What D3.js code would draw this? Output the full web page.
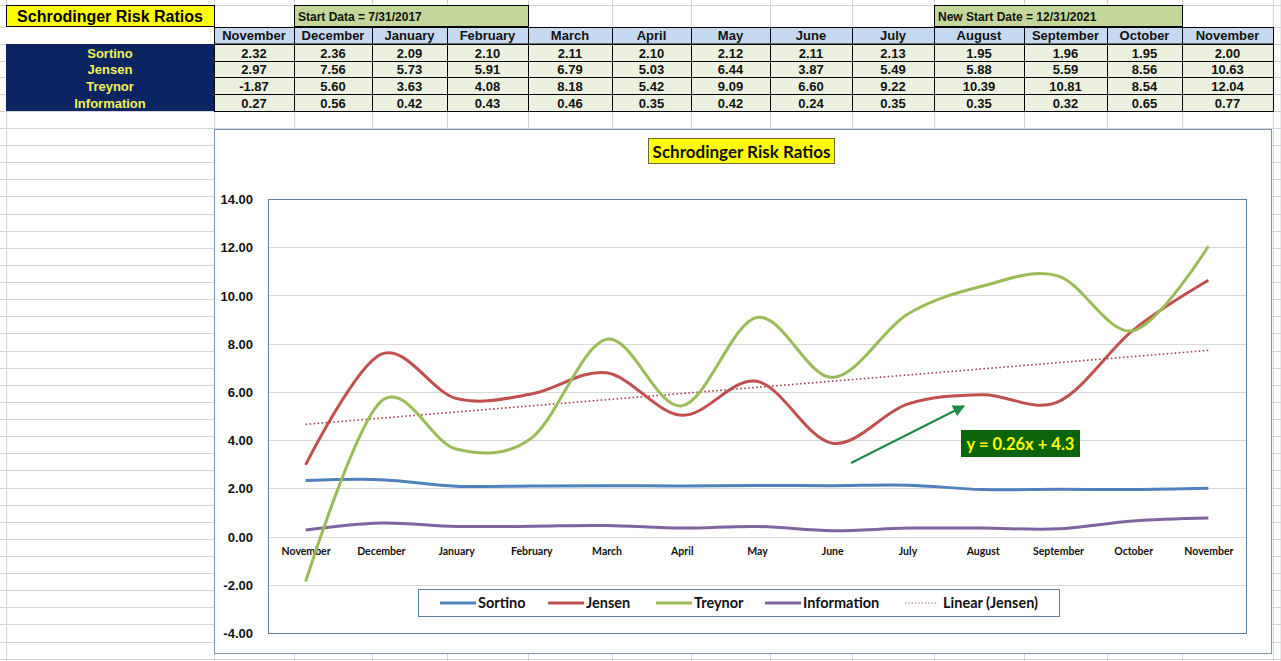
<!DOCTYPE html>
<html><head><meta charset="utf-8">
<script src="https://cdn.jsdelivr.net/npm/d3@7"></script>
<style>
html,body{margin:0;padding:0;background:#fff;}
svg{display:block;}
</style></head>
<body>
<svg id="c" width="1281" height="661"></svg>
<script>
// ---------- DATA ----------
const months = ["November","December","January","February","March","April","May","June","July","August","September","October","November"];
const sortino = [2.32,2.36,2.09,2.10,2.11,2.10,2.12,2.11,2.13,1.95,1.96,1.95,2.00];
const jensen = [2.97,7.56,5.73,5.91,6.79,5.03,6.44,3.87,5.49,5.88,5.59,8.56,10.63];
const treynor = [-1.87,5.60,3.63,4.08,8.18,5.42,9.09,6.60,9.22,10.39,10.81,8.54,12.04];
const information = [0.27,0.56,0.42,0.43,0.46,0.35,0.42,0.24,0.35,0.35,0.32,0.65,0.77];
const seriesNames = ["Sortino","Jensen","Treynor","Information"];
const yTicks = [-4,-2,0,2,4,6,8,10,12,14];
const tableTitle = "Schrodinger Risk Ratios";
const chartTitle = "Schrodinger Risk Ratios";
const startNote = "Start Data = 7/31/2017";
const newStartNote = "New Start Date = 12/31/2021";
const trendLabel = "y = 0.26x + 4.3";
const trendLegend = "Linear (Jensen)";

// ---------- LAYOUT ----------
const svg = d3.select("#c");
const fmt = d3.formatLocale({decimal:".", thousands:",", grouping:[3], currency:["$",""], minus:"-"}).format(".2f");
const colors = {Sortino:"#4F81BD", Jensen:"#C0504D", Treynor:"#9BBB59", Information:"#8064A2"};
const seriesData = {Sortino:sortino, Jensen:jensen, Treynor:treynor, Information:information};
const colEdges = [214,294,372,447,528,612,691,770,852,934,1024,1107,1182,1273];
const rowTops = [5,27,44,61,77,94,111];
const gridColor = "#D4D4D4";
const armF = "'Liberation Sans', Arial, sans-serif";
const calF = "Lato, 'Open Sans', sans-serif";

// spreadsheet gridlines
const g0 = svg.append("g");
const vLines = [6].concat(colEdges);
vLines.forEach(x => g0.append("line").attr("x1",x+0.5).attr("x2",x+0.5).attr("y1",0).attr("y2",661).attr("stroke",gridColor));
g0.append("line").attr("x1",1281).attr("x2",1281).attr("y1",0).attr("y2",661).attr("stroke",gridColor);
const hLines = [5,27,44,61,77,94,111];
for (let y=128; y<661; y+=17.12) hLines.push(Math.round(y));
hLines.forEach(y => g0.append("line").attr("x1",0).attr("x2",1281).attr("y1",y+0.5).attr("y2",y+0.5).attr("stroke",gridColor));

// ---------- TABLE ----------
const gt = svg.append("g");
gt.append("rect").attr("x",6.5).attr("y",5.5).attr("width",208).attr("height",21).attr("fill","#FFFF00").attr("stroke","#000");
gt.append("text").attr("x",110).attr("y",21.5).attr("text-anchor","middle").attr("font-family",armF).attr("font-weight","bold").attr("font-size",16).text(tableTitle);
gt.append("rect").attr("x",6).attr("y",27).attr("width",208).attr("height",17).attr("fill","#fff");
function note(c0,c1,txt){
  gt.append("rect").attr("x",colEdges[c0]+0.5).attr("y",5.5).attr("width",colEdges[c1]-colEdges[c0]).attr("height",21).attr("fill","#C4D79B").attr("stroke","#000");
  gt.append("text").attr("x",colEdges[c0]+4).attr("y",21).attr("font-family",armF).attr("font-weight","bold").attr("font-size",12).attr("fill","#111").text(txt);
}
note(1,4,startNote);
note(9,12,newStartNote);
months.forEach((m,i)=>{
  const x0=colEdges[i], x1=colEdges[i+1];
  gt.append("rect").attr("x",x0+0.5).attr("y",27.5).attr("width",x1-x0).attr("height",16.5).attr("fill","#C5D9F1").attr("stroke","#000");
  gt.append("text").attr("x",(x0+x1)/2).attr("y",40).attr("text-anchor","middle").attr("font-family",armF).attr("font-weight","bold").attr("font-size",13).attr("fill","#111").text(m);
});
gt.append("rect").attr("x",6).attr("y",44).attr("width",208).attr("height",67).attr("fill","#0B2462");
seriesNames.forEach((s,r)=>{
  const y0=rowTops[r+2], y1=rowTops[r+3];
  gt.append("text").attr("x",110).attr("y",y1-3.5).attr("text-anchor","middle").attr("font-family",armF).attr("font-weight","bold").attr("font-size",13).attr("fill","#F2F25A").text(s);
  seriesData[s].forEach((v,i)=>{
    const x0=colEdges[i], x1=colEdges[i+1];
    gt.append("rect").attr("x",x0+0.5).attr("y",y0+0.5).attr("width",x1-x0).attr("height",y1-y0).attr("fill","#EBF1DE").attr("stroke","#000");
    gt.append("text").attr("x",(x0+x1)/2).attr("y",y1-3.5).attr("text-anchor","middle").attr("font-family",armF).attr("font-weight","bold").attr("font-size",13).attr("fill","#111").text(fmt(v));
  });
});

// ---------- CHART ----------
const gc = svg.append("g");
gc.append("rect").attr("x",214.5).attr("y",129.5).attr("width",1057).attr("height",524).attr("fill","#fff").attr("stroke","#7896B4");
const P = {l:268, r:1246, t:199, b:633};
const x = d3.scalePoint().domain(d3.range(months.length)).range([P.l,P.r]).padding(0.5);
const y = d3.scaleLinear().domain([-4,14]).range([P.b,P.t]);

yTicks.forEach(t => {
  if (t===14) return;
  gc.append("line").attr("x1",P.l).attr("x2",P.r).attr("y1",Math.round(y(t))+0.5).attr("y2",Math.round(y(t))+0.5).attr("stroke","#D9D9D9");
});
gc.append("rect").attr("x",P.l+0.5).attr("y",P.t+0.5).attr("width",P.r-P.l).attr("height",P.b-P.t).attr("fill","none").attr("stroke","#5E7E9E");

const yAxis = d3.axisLeft(y).tickValues(yTicks).tickFormat(fmt).tickSize(0).tickPadding(0);
const ya = gc.append("g").attr("transform","translate(253,0)").call(yAxis);
ya.select(".domain").remove();
ya.selectAll("text").attr("font-family",armF).attr("font-weight","bold").attr("font-size",13).attr("fill","#111").attr("dy","0.35em");

const xAxis = d3.axisBottom(x).tickFormat(i=>months[i]).tickSize(0).tickPadding(0);
const xa = gc.append("g").attr("transform",`translate(0,${y(0)+11})`).call(xAxis);
xa.select(".domain").remove();
xa.selectAll("text").attr("font-family",calF).attr("font-weight","bold").attr("font-size",10.5).attr("fill","#111").attr("dy","0.71em");

// trendline (linear regression of Jensen)
const xs = jensen.map((d,i)=>i+1);
const mx = d3.mean(xs), my = d3.mean(jensen);
const slope = d3.sum(xs.map((xi,i)=>(xi-mx)*(jensen[i]-my))) / d3.sum(xs.map(xi=>(xi-mx)*(xi-mx)));
const icpt = my - slope*mx;
gc.append("line")
  .attr("x1",x(0)).attr("y1",y(icpt+slope*1))
  .attr("x2",x(months.length-1)).attr("y2",y(icpt+slope*months.length))
  .attr("stroke","#A0464A").attr("stroke-width",1.6).attr("stroke-dasharray","1.6,2.4");

const line = d3.line().x((d,i)=>x(i)).y(d=>y(d)).curve(d3.curveCardinal.tension(0));
["Sortino","Information","Jensen","Treynor"].forEach(s=>{
  gc.append("path").datum(seriesData[s]).attr("d",line).attr("fill","none")
    .attr("stroke",colors[s]).attr("stroke-width",3).attr("stroke-linecap","butt");
});

// title
gc.append("rect").attr("x",648.5).attr("y",138.5).attr("width",186).attr("height",25).attr("fill","#FFFF00").attr("stroke","#6B6B3A");
gc.append("text").attr("x",741.5).attr("y",157.5).attr("text-anchor","middle").attr("font-family",calF).attr("font-weight","bold").attr("font-size",17).attr("fill","#111").text(chartTitle);

// arrow
const defs = svg.append("defs");
defs.append("marker").attr("id","ah").attr("viewBox","0 0 10 10").attr("refX",9).attr("refY",5)
  .attr("markerWidth",6).attr("markerHeight",6).attr("orient","auto").attr("markerUnits","strokeWidth")
  .append("path").attr("d","M0,0 L10,5 L0,10 z").attr("fill","#1E8A46");
gc.append("line").attr("x1",851).attr("y1",463).attr("x2",964).attr("y2",406).attr("stroke","#1E8A46").attr("stroke-width",2).attr("marker-end","url(#ah)");

// equation label
gc.append("rect").attr("x",961).attr("y",430).attr("width",119).attr("height",27).attr("fill","#0A640A");
gc.append("text").attr("x",1020.5).attr("y",449.5).attr("text-anchor","middle").attr("font-family",calF).attr("font-weight","bold").attr("font-size",16.5).attr("fill","#FFFF00").text(trendLabel);

// legend
gc.append("rect").attr("x",418.5).attr("y",589.5).attr("width",641).attr("height",27).attr("fill","#fff").attr("stroke","#5E7E9E");
const legItems = [
  {name:"Sortino", x:440},{name:"Jensen", x:548},{name:"Treynor", x:656},{name:"Information", x:765},{name:trendLegend, x:905, trend:true}
];
legItems.forEach(it=>{
  const ly = 603;
  if (it.trend) {
    gc.append("line").attr("x1",it.x).attr("x2",it.x+33).attr("y1",ly).attr("y2",ly).attr("stroke","#B07077").attr("stroke-width",1.2).attr("stroke-dasharray","1.5,1.8");
  } else {
    gc.append("line").attr("x1",it.x).attr("x2",it.x+36).attr("y1",ly).attr("y2",ly).attr("stroke",colors[it.name]).attr("stroke-width",3);
  }
  gc.append("text").attr("x",it.x+38).attr("y",ly+5).attr("font-family",calF).attr("font-weight","bold").attr("font-size",14.5).attr("fill","#111").text(it.name);
});
</script>
</body></html>
